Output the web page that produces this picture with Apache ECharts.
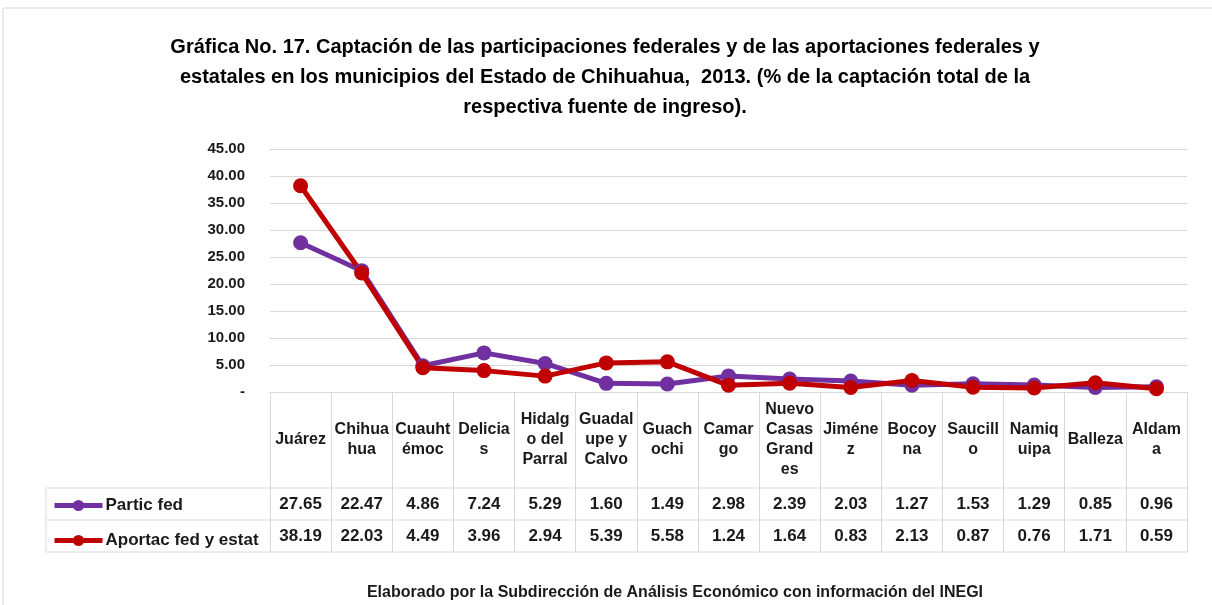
<!DOCTYPE html>
<html>
<head>
<meta charset="utf-8">
<script src="https://cdn.jsdelivr.net/npm/echarts@6/dist/echarts.min.js"></script>
<style>
  html, body { margin: 0; padding: 0; background: #fff; }
  #main { width: 1212px; height: 605px; }
</style>
</head>
<body>
<div id="main"></div>
<script>
// municipios (as wrapped in the chart table header)
var categories = [
  "Juárez", "Chihua\nhua", "Cuauht\némoc", "Delicia\ns", "Hidalg\no del\nParral",
  "Guadal\nupe y\nCalvo", "Guach\nochi", "Camar\ngo", "Nuevo\nCasas\nGrand\nes", "Jiméne\nz",
  "Bocoy\nna", "Saucill\no", "Namiq\nuipa", "Balleza", "Aldam\na"
];
var particFed = [27.65, 22.47, 4.86, 7.24, 5.29, 1.60, 1.49, 2.98, 2.39, 2.03, 1.27, 1.53, 1.29, 0.85, 0.96];
var aportacFed = [38.19, 22.03, 4.49, 3.96, 2.94, 5.39, 5.58, 1.24, 1.64, 0.83, 2.13, 0.87, 0.76, 1.71, 0.59];
var yTicks = [0, 5, 10, 15, 20, 25, 30, 35, 40, 45];

var FONT = '"Liberation Sans", Arial, sans-serif';
var GRID_L = 270, GRID_R = 1187, GRID_T = 149, GRID_B = 392;
var ROW1 = 488, ROW2 = 520, ROW3 = 552;
var lineCol = '#D9D9D9';
var txtCol = '#1a1a1a';

var myChart = echarts.init(document.getElementById('main'));

function fmt(v) { return v.toFixed(2); }

var option = {
  animation: false,
  textStyle: { fontFamily: FONT },
  title: {
    text: 'Gráfica No. 17. Captación de las participaciones federales y de las aportaciones federales y\nestatales en los municipios del Estado de Chihuahua,  2013. (% de la captación total de la\nrespectiva fuente de ingreso).',
    left: 600, top: 27, textAlign: 'center',
    textStyle: { fontFamily: FONT, fontSize: 20, fontWeight: 'bold', color: '#000', lineHeight: 30 }
  },
  legend: {
    orient: 'vertical', left: 52, top: 497, padding: 0,
    itemWidth: 48, itemHeight: 14, itemGap: 18,
    lineStyle: { width: 5 },
    textStyle: { fontFamily: FONT, fontSize: 17, fontWeight: 'bold', color: txtCol, padding: [0, 0, 0, -2] },
    data: ['Partic fed', 'Aportac fed y estat']
  },
  grid: { left: GRID_L, right: 1212 - GRID_R, top: GRID_T, bottom: 605 - GRID_B },
  xAxis: [
    {
      type: 'category', data: categories, boundaryGap: true,
      axisLine: { show: true, lineStyle: { color: lineCol, width: 1 } },
      axisTick: { show: true, alignWithLabel: false, length: ROW3 - GRID_B, lineStyle: { color: lineCol } },
      axisLabel: { interval: 0, margin: 48, verticalAlign: 'middle', fontFamily: FONT, fontSize: 16, fontWeight: 'bold', color: txtCol, lineHeight: 20 }
    },
    {
      type: 'category', data: particFed.map(fmt), position: 'bottom', offset: (ROW1 + ROW2) / 2 - GRID_B,
      axisLine: { show: false }, axisTick: { show: false },
      axisLabel: { interval: 0, margin: 0, verticalAlign: 'middle', fontFamily: FONT, fontSize: 17, fontWeight: 'bold', color: txtCol }
    },
    {
      type: 'category', data: aportacFed.map(fmt), position: 'bottom', offset: (ROW2 + ROW3) / 2 - GRID_B,
      axisLine: { show: false }, axisTick: { show: false },
      axisLabel: { interval: 0, margin: 0, verticalAlign: 'middle', fontFamily: FONT, fontSize: 17, fontWeight: 'bold', color: txtCol }
    }
  ],
  yAxis: {
    type: 'value', min: yTicks[0], max: yTicks[yTicks.length - 1], interval: 5,
    axisLine: { show: false }, axisTick: { show: false },
    splitLine: { lineStyle: { color: lineCol, width: 1 } },
    axisLabel: {
      margin: 25, fontFamily: FONT, fontSize: 15, fontWeight: 'bold', color: txtCol,
      formatter: function (v) { return v === 0 ? '-' : v.toFixed(2); }
    }
  },
  series: [
    {
      name: 'Partic fed', type: 'line', data: particFed,
      symbol: 'circle', symbolSize: 15,
      lineStyle: { width: 5, color: '#7030A0' },
      itemStyle: { color: '#7030A0' }
    },
    {
      name: 'Aportac fed y estat', type: 'line', data: aportacFed,
      symbol: 'circle', symbolSize: 15,
      lineStyle: { width: 5, color: '#C00000' },
      itemStyle: { color: '#C00000' }
    }
  ],
  graphic: [
    { type: 'rect', shape: { x: 3, y: 8, width: 1300, height: 700 }, style: { fill: 'none', stroke: '#D9D9D9', lineWidth: 1 }, silent: true, z: -1 },
    { type: 'line', shape: { x1: 46, y1: ROW1, x2: GRID_R, y2: ROW1 }, style: { stroke: lineCol, lineWidth: 1 }, silent: true },
    { type: 'line', shape: { x1: 46, y1: ROW2, x2: GRID_R, y2: ROW2 }, style: { stroke: lineCol, lineWidth: 1 }, silent: true },
    { type: 'line', shape: { x1: 46, y1: ROW3, x2: GRID_R, y2: ROW3 }, style: { stroke: lineCol, lineWidth: 1 }, silent: true },
    { type: 'line', shape: { x1: 46, y1: ROW1, x2: 46, y2: ROW3 }, style: { stroke: lineCol, lineWidth: 1 }, silent: true },
    {
      type: 'text', x: 675, y: 593,
      style: { text: 'Elaborado por la Subdirección de Análisis Económico con información del INEGI', font: 'bold 16px ' + FONT, fill: txtCol, align: 'center', verticalAlign: 'middle' }
    }
  ]
};

myChart.setOption(option);
</script>
</body>
</html>
